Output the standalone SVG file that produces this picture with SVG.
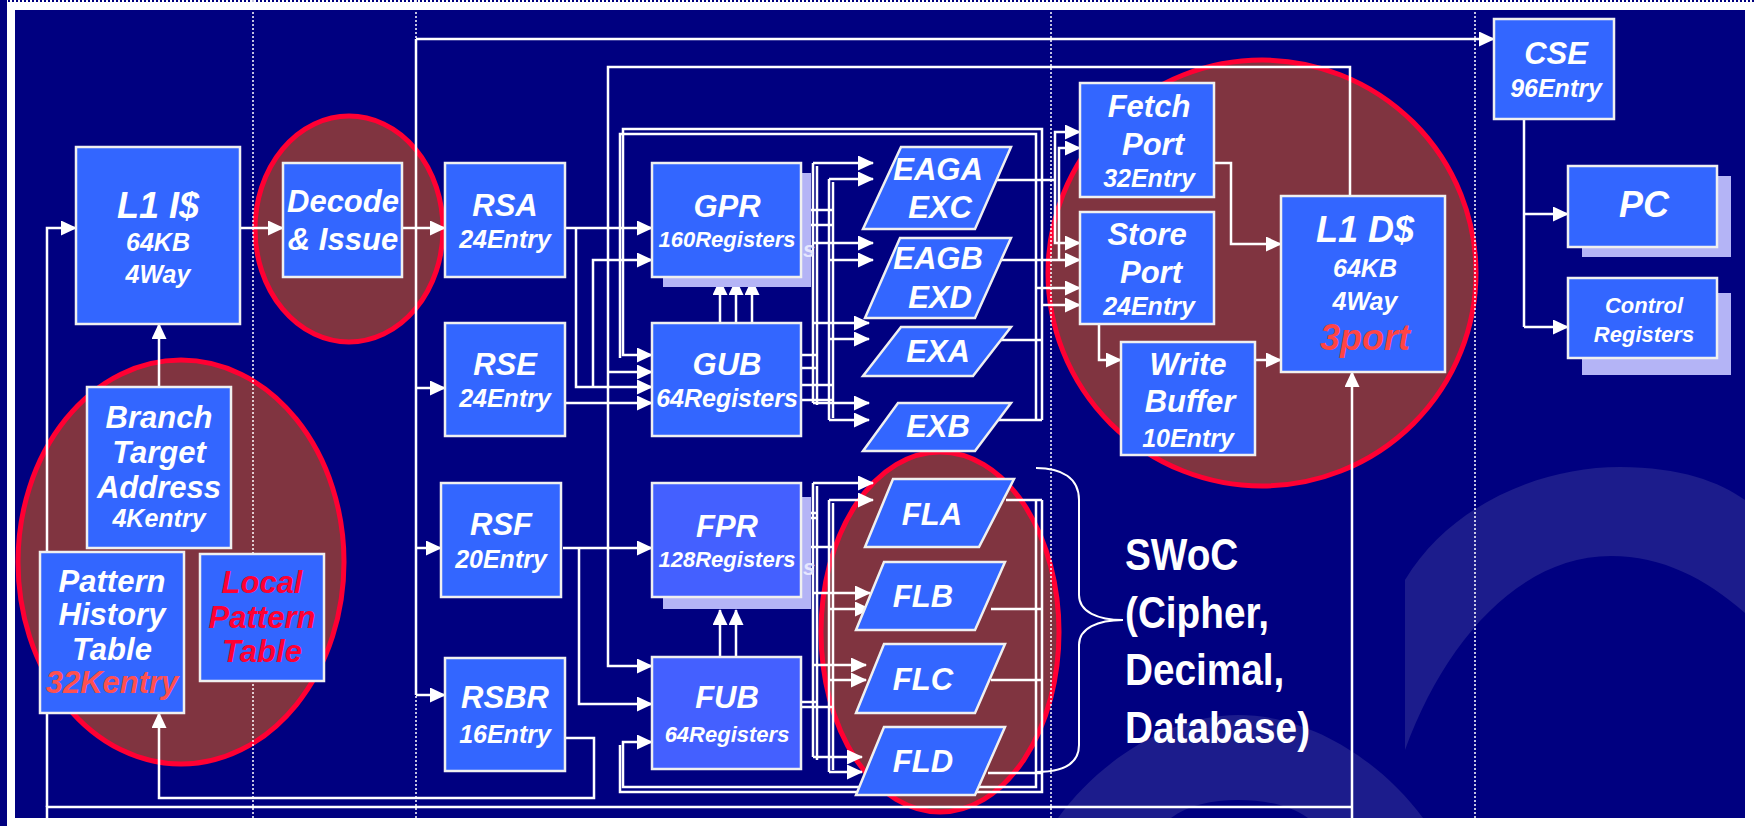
<svg xmlns="http://www.w3.org/2000/svg" width="1754" height="826" viewBox="0 0 1754 826">
<defs>
<marker id="ah" markerUnits="userSpaceOnUse" markerWidth="16" markerHeight="15" refX="15" refY="7.5" orient="auto">
<path d="M0,0 L16,7.5 L0,15 Z" fill="#FFFFFF"/>
</marker>
<style>
.bg{fill:#000080}
.ell{fill:#803440;stroke:#FF0033;stroke-width:5}
.box{fill:#3366FF;stroke:#F0F0F0;stroke-width:2.5}
.boxf{fill:#4460FF;stroke:#F0F0F0;stroke-width:2.5}
.sh{fill:#B4B4F6}
.dot{stroke:#FFFFFF;stroke-width:1.5;stroke-dasharray:2 2;fill:none}
.c{stroke:#FFFFFF;stroke-width:2.5;fill:none}
.ca{stroke:#FFFFFF;stroke-width:2.5;fill:none;marker-end:url(#ah)}
.arc{fill:#1C1C8C}
text{font-family:"Liberation Sans",Arial,sans-serif;font-weight:bold;font-style:italic;fill:#FFFFFF;text-anchor:middle}
.xl{font-size:36px}
.l{font-size:31px}
.m{font-size:25px}
.s{font-size:22px}
.red{fill:#FF0033}
.coral{fill:#FF5050}
.sht{fill:#E6E6FF;text-anchor:start}
.sw{font-style:normal;font-size:44px;text-anchor:start}
</style>
</defs>
<rect x="0" y="0" width="1754" height="826" fill="#FFFFFF"/>
<rect class="bg" x="15" y="10" width="1730" height="808"/>
<rect class="bg" x="0" y="0" width="7" height="826"/>
<line x1="0" y1="1" x2="1754" y2="1" stroke="#000080" stroke-width="2" stroke-dasharray="2 2"/>
<g id="decor">
<path class="arc" d="M1405,580 C1450,505 1540,467 1620,467 C1680,467 1720,482 1745,500 L1745,613 C1705,578 1662,556 1611,556 C1520,556 1445,640 1405,750 Z"/>
<path class="arc" d="M1058,818 C1100,760 1170,715 1238,715 C1310,715 1380,760 1423,818 L1308,818 C1290,805 1265,800 1238,800 C1212,800 1188,805 1171,818 Z"/>
</g>
<g id="regions">
<ellipse class="ell" cx="349" cy="229" rx="94" ry="113"/>
<ellipse class="ell" cx="181" cy="562" rx="163" ry="202"/>
<ellipse class="ell" cx="1262" cy="273" rx="214" ry="213"/>
<ellipse class="ell" cx="940" cy="632" rx="119" ry="180"/>
</g>
<g id="dividers">
<line class="dot" x1="253" y1="0" x2="253" y2="826"/>
<line class="dot" x1="416" y1="0" x2="416" y2="826"/>
<line class="dot" x1="1051" y1="0" x2="1051" y2="826"/>
<line class="dot" x1="1475" y1="0" x2="1475" y2="826"/>
</g>
<g id="connectors">
<path class="ca" d="M240,228 H283"/>
<path class="ca" d="M402,228 H445"/>
<path class="c" d="M416,228 V39"/>
<path class="ca" d="M416,39 H1494"/>
<path class="c" d="M416,228 V695"/>
<path class="ca" d="M416,388 H445"/>
<path class="ca" d="M416,548 H441"/>
<path class="ca" d="M416,695 H445"/>
<path class="ca" d="M159,387 V324"/>
<path class="ca" d="M565,738 H594 V798 H159 V713"/>
<path class="c" d="M1352,807 H47 V818"/>
<path class="ca" d="M47,807 V228 H76"/>
<path class="ca" d="M1352,818 V372"/>
<path class="ca" d="M1350,196 V67 H608 V666 H652"/>
<path class="ca" d="M608,372 H652"/>
<path class="ca" d="M565,228 H652"/>
<path class="ca" d="M576,228 V387 H652"/>
<path class="ca" d="M593,387 V260 H652"/>
<path class="ca" d="M565,403 H652"/>
<path class="ca" d="M563,548 H652"/>
<path class="ca" d="M579,548 V704 H652"/>
<path class="ca" d="M1042,420 V129 H623 V355 H652"/>
<path class="c" d="M1036,420 V134 H620 V358"/>
<path class="c" d="M994,180 H1055"/>
<path class="ca" d="M991,260 H1080"/>
<path class="c" d="M990,340 H1042"/>
<path class="c" d="M990,420 H1042"/>
<path class="ca" d="M1055,180 V132 H1080"/>
<path class="ca" d="M1055,180 V243 H1080"/>
<path class="ca" d="M1059,260 V148 H1080"/>
<path class="ca" d="M1036,288 H1080"/>
<path class="ca" d="M1042,305 H1080"/>
<path class="c" d="M813,163 V403 M817,166 V405 M829,179 V420 M833,182 V418"/>
<path class="c" d="M801,210 H833 M801,225 H833 M801,355 H817 M801,368 H817 M801,385 H833 M801,400 H833"/>
<path class="ca" d="M813,163 H873"/>
<path class="ca" d="M829,179 H873"/>
<path class="ca" d="M813,243 H873"/>
<path class="ca" d="M829,260 H873"/>
<path class="ca" d="M813,323 H869"/>
<path class="ca" d="M829,339 H869"/>
<path class="ca" d="M813,403 H869"/>
<path class="ca" d="M829,420 H869"/>
<path class="c" d="M813,483 V757 M817,486 V760 M829,500 V772 M833,503 V770"/>
<path class="c" d="M801,513 H817 M801,518 H817 M801,547 H833 M801,702 H817 M801,707 H833"/>
<path class="ca" d="M813,483 H873"/>
<path class="ca" d="M829,500 H873"/>
<path class="ca" d="M813,593 H870"/>
<path class="ca" d="M829,609 H870"/>
<path class="ca" d="M813,665 H866"/>
<path class="ca" d="M829,680 H866"/>
<path class="ca" d="M813,757 H862"/>
<path class="ca" d="M829,772 H862"/>
<path class="c" d="M1006,500 H1042 M991,609 H1042 M991,680 H1042 M988,773 H1042"/>
<path class="ca" d="M1036,500 V787 H623 V742 H652"/>
<path class="c" d="M1042,500 V792 H620 V745"/>
<path class="ca" d="M720,323 V280"/>
<path class="ca" d="M736,323 V280"/>
<path class="ca" d="M752,323 V280"/>
<path class="ca" d="M720,657 V610"/>
<path class="ca" d="M736,657 V610"/>
<path class="ca" d="M1214,163 H1231 V244 H1281"/>
<path class="ca" d="M1099,324 V360 H1121"/>
<path class="ca" d="M1255,360 H1281"/>
<path class="c" d="M1524,119 V327"/>
<path class="ca" d="M1524,214 H1568"/>
<path class="ca" d="M1524,327 H1568"/>
<path d="M1036,468 C1062,468 1079,478 1079,500 L1079,595 C1079,612 1098,620 1123,620 C1098,620 1079,628 1079,645 L1079,745 C1079,764 1062,772 1036,772" fill="none" stroke="#FFFFFF" stroke-width="2"/>
</g>
<g id="l1i"><rect class="box" x="76" y="147" width="164" height="177"/><text class="xl" x="158" y="218">L1 I$</text><text class="m" x="158" y="251">64KB</text><text class="m" x="158" y="283">4Way</text></g>
<g id="decode"><rect class="box" x="283" y="163" width="119" height="114"/><text class="l" x="343" y="212">Decode</text><text class="l" x="343" y="250">&amp; Issue</text></g>
<g id="rsa"><rect class="box" x="445" y="163" width="120" height="114"/><text class="l" x="505" y="216">RSA</text><text class="m" x="505" y="248">24Entry</text></g>
<g id="rse"><rect class="box" x="445" y="323" width="120" height="113"/><text class="l" x="505" y="375">RSE</text><text class="m" x="505" y="407">24Entry</text></g>
<g id="rsf"><rect class="box" x="441" y="483" width="120" height="114"/><text class="l" x="501" y="535">RSF</text><text class="m" x="501" y="568">20Entry</text></g>
<g id="rsbr"><rect class="box" x="445" y="658" width="120" height="113"/><text class="l" x="505" y="708">RSBR</text><text class="m" x="505" y="743">16Entry</text></g>
<g id="bta"><rect class="box" x="87" y="387" width="144" height="161"/><text class="l" x="159" y="428">Branch</text><text class="l" x="159" y="463">Target</text><text class="l" x="159" y="498">Address</text><text class="m" x="159" y="527">4Kentry</text></g>
<g id="pht"><rect class="box" x="40" y="552" width="144" height="161"/><text class="l" x="112" y="592">Pattern</text><text class="l" x="112" y="625">History</text><text class="l" x="112" y="660">Table</text><text class="l coral" x="112" y="693">32Kentry</text></g>
<g id="lpt"><rect class="box" x="200" y="554" width="124" height="127"/><text class="l red" x="262" y="593">Local</text><text class="l red" x="262" y="628">Pattern</text><text class="l red" x="262" y="662">Table</text></g>
<g id="gpr"><rect class="sh" x="663" y="173" width="148" height="114"/><text class="s sht" x="803" y="257">s</text><rect class="box" x="652" y="163" width="149" height="114"/><text class="l" x="727" y="217">GPR</text><text class="s" x="727" y="247">160Registers</text></g>
<g id="gub"><rect class="box" x="652" y="323" width="149" height="113"/><text class="l" x="727" y="375">GUB</text><text class="m" x="727" y="407">64Registers</text></g>
<g id="fpr"><rect class="sh" x="663" y="497" width="148" height="112"/><text class="s sht" x="803" y="575">s</text><rect class="boxf" x="652" y="483" width="149" height="114"/><text class="l" x="727" y="537">FPR</text><text class="s" x="727" y="567">128Registers</text></g>
<g id="fub"><rect class="boxf" x="652" y="657" width="149" height="112"/><text class="l" x="727" y="708">FUB</text><text class="s" x="727" y="742">64Registers</text></g>
<g id="eaga"><polygon class="box" points="901,147 1011,147 975,229 863,229"/><text class="l" x="938" y="180">EAGA</text><text class="l" x="940" y="218">EXC</text></g>
<g id="eagb"><polygon class="box" points="900,238 1011,238 975,318 865,318"/><text class="l" x="938" y="269">EAGB</text><text class="l" x="940" y="308">EXD</text></g>
<g id="exa"><polygon class="box" points="901,327 1011,327 973,376 863,376"/><text class="l" x="938" y="362">EXA</text></g>
<g id="exb"><polygon class="box" points="898,403 1011,403 975,451 863,451"/><text class="l" x="938" y="437">EXB</text></g>
<g id="fla"><polygon class="box" points="893,479 1014,479 979,547 865,547"/><text class="l" x="932" y="525">FLA</text></g>
<g id="flb"><polygon class="box" points="884,562 1005,562 975,630 856,630"/><text class="l" x="923" y="607">FLB</text></g>
<g id="flc"><polygon class="box" points="884,644 1005,644 975,713 856,713"/><text class="l" x="923" y="690">FLC</text></g>
<g id="fld"><polygon class="box" points="884,727 1005,727 975,795 856,795"/><text class="l" x="923" y="772">FLD</text></g>
<g id="fetch"><rect class="box" x="1080" y="83" width="134" height="114"/><text class="l" x="1149" y="117">Fetch</text><text class="l" x="1153" y="155">Port</text><text class="m" x="1149" y="187">32Entry</text></g>
<g id="store"><rect class="box" x="1080" y="212" width="134" height="112"/><text class="l" x="1147" y="245">Store</text><text class="l" x="1151" y="283">Port</text><text class="m" x="1149" y="315">24Entry</text></g>
<g id="wbuf"><rect class="box" x="1121" y="342" width="134" height="113"/><text class="l" x="1188" y="375">Write</text><text class="l" x="1190" y="412">Buffer</text><text class="m" x="1188" y="447">10Entry</text></g>
<g id="l1d"><rect class="box" x="1281" y="196" width="164" height="176"/><text class="xl" x="1365" y="242">L1 D$</text><text class="m" x="1365" y="277">64KB</text><text class="m" x="1365" y="310">4Way</text><text class="xl" x="1365" y="350" style="fill:#FF4444">3port</text></g>
<g id="cse"><rect class="box" x="1494" y="19" width="120" height="100"/><text class="l" x="1556" y="64">CSE</text><text class="m" x="1556" y="97">96Entry</text></g>
<g id="pc"><rect class="sh" x="1582" y="176" width="149" height="81"/><rect class="box" x="1568" y="166" width="149" height="81"/><text class="xl" x="1644" y="217">PC</text></g>
<g id="ctrl"><rect class="sh" x="1582" y="293" width="149" height="82"/><rect class="box" x="1568" y="278" width="149" height="80"/><text class="s" x="1644" y="313">Control</text><text class="s" x="1644" y="342">Registers</text></g>
<g id="swoc" transform="translate(1125,0) scale(0.88,1)"><text class="sw" x="0" y="570">SWoC</text><text class="sw" x="0" y="628">(Cipher,</text><text class="sw" x="0" y="685">Decimal,</text><text class="sw" x="0" y="743">Database)</text></g>
</svg>
